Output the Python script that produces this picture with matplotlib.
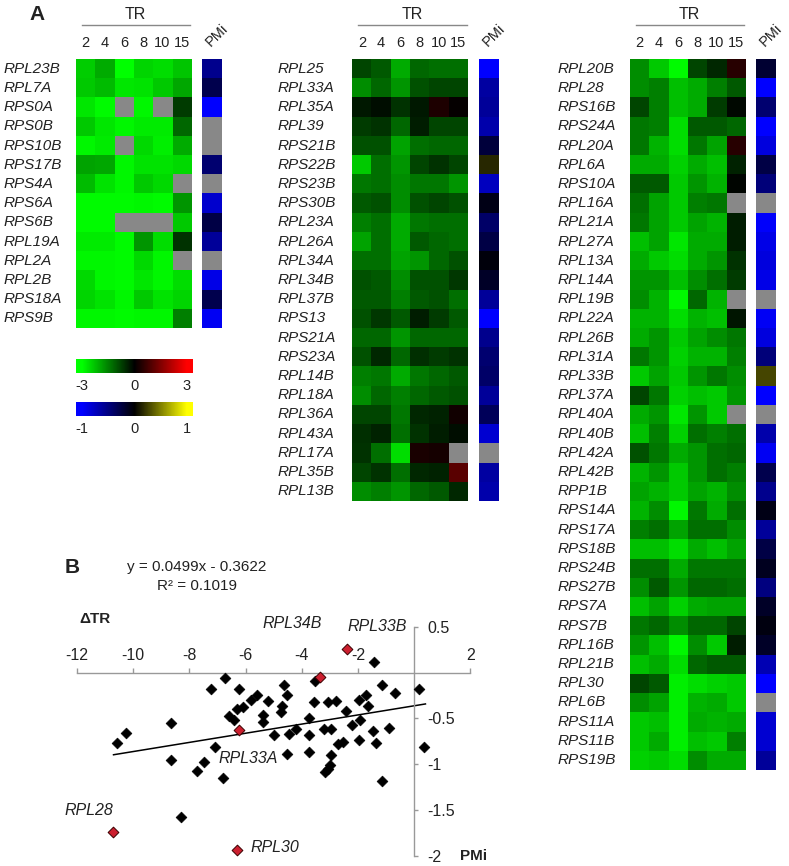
import numpy as np
import matplotlib
matplotlib.use("Agg")
import matplotlib.pyplot as plt
from matplotlib.colors import LinearSegmentedColormap
from matplotlib import transforms

plt.rcParams['font.family'] = ['Liberation Sans', 'DejaVu Sans']

nan = np.nan
tr_cols = ["2", "4", "6", "8", "10", "15"]

# ---------------- Panel A data ----------------
genes1 = ["RPL23B", "RPL7A", "RPS0A", "RPS0B", "RPS10B", "RPS17B", "RPS4A",
          "RPS6A", "RPS6B", "RPL19A", "RPL2A", "RPL2B", "RPS18A", "RPS9B"]
tr1 = [
    [-2.4, -2.0, -3.0, -2.5, -2.6, -2.3],
    [-2.35, -2.2, -2.7, -2.65, -2.35, -1.95],
    [-2.7, -2.95, nan, -2.9, nan, -0.7],
    [-2.35, -2.7, -2.9, -2.75, -2.75, -1.2],
    [-2.9, -2.75, nan, -2.55, -2.8, -2.0],
    [-1.9, -1.95, -2.9, -2.65, -2.65, -2.55],
    [-2.2, -2.65, -2.9, -2.35, -2.55, nan],
    [-2.95, -2.95, -2.95, -2.9, -2.95, -1.75],
    [-2.95, -2.95, nan, nan, nan, -2.35],
    [-2.75, -2.75, -2.95, -1.75, -2.6, -0.6],
    [-2.9, -2.9, -2.95, -2.55, -2.9, nan],
    [-2.55, -2.9, -2.95, -2.7, -2.9, -2.6],
    [-2.5, -2.65, -2.9, -2.35, -2.65, -2.5],
    [-2.9, -2.9, -2.95, -2.9, -2.9, -1.5],
]
pmi1 = [-0.55, -0.3, -1.0, nan, nan, -0.43, nan, -0.8, -0.27, -0.6, nan, -0.9, -0.3, -0.95]

genes2 = ["RPL25", "RPL33A", "RPL35A", "RPL39", "RPS21B", "RPS22B", "RPS23B",
          "RPS30B", "RPL23A", "RPL26A", "RPL34A", "RPL34B", "RPL37B", "RPS13",
          "RPS21A", "RPS23A", "RPL14B", "RPL18A", "RPL36A", "RPL43A", "RPL17A",
          "RPL35B", "RPL13B"]
tr2 = [
    [-0.8, -1.05, -2.0, -1.2, -1.3, -1.3],
    [-1.65, -1.2, -1.75, -0.95, -0.8, -0.8],
    [-0.3, -0.15, -0.6, -0.3, 0.35, 0.05],
    [-0.7, -0.6, -1.2, -0.35, -0.8, -0.8],
    [-0.95, -0.95, -1.9, -1.3, -1.2, -1.2],
    [-2.35, -1.3, -1.75, -0.8, -0.6, -0.8],
    [-1.4, -1.3, -1.65, -1.4, -1.4, -1.75],
    [-1.05, -0.95, -1.65, -0.95, -0.8, -0.95],
    [-1.5, -1.3, -2.0, -1.4, -1.3, -1.3],
    [-1.9, -1.3, -2.0, -1.05, -1.2, -1.3],
    [-1.3, -1.3, -1.9, -1.75, -1.2, -0.95],
    [-0.95, -1.05, -1.65, -0.95, -0.95, -0.65],
    [-1.05, -1.05, -1.5, -1.05, -0.95, -1.3],
    [-0.95, -0.65, -1.05, -0.35, -0.7, -1.05],
    [-1.2, -1.2, -1.75, -1.2, -1.2, -1.2],
    [-0.95, -0.45, -1.2, -0.55, -0.7, -0.6],
    [-1.5, -1.4, -2.0, -1.4, -1.2, -1.05],
    [-1.65, -1.2, -1.5, -1.2, -1.05, -0.95],
    [-0.8, -0.8, -1.4, -0.45, -0.4, 0.2],
    [-0.55, -0.4, -1.3, -0.6, -0.35, -0.15],
    [-0.6, -1.3, -2.6, 0.3, 0.25, nan],
    [-0.8, -0.6, -1.3, -0.45, -0.4, 1.05],
    [-1.65, -1.5, -1.75, -1.2, -1.05, -0.45],
]
pmi2 = [-1.0, -0.63, -0.6, -0.67, -0.23, 0.15, -0.75, -0.08, -0.4, -0.27, -0.04,
        -0.15, -0.6, -1.0, -0.55, -0.43, -0.4, -0.6, -0.35, -0.82, nan, -0.63, -0.67]

genes3 = ["RPL20B", "RPL28", "RPS16B", "RPS24A", "RPL20A", "RPL6A", "RPS10A",
          "RPL16A", "RPL21A", "RPL27A", "RPL13A", "RPL14A", "RPL19B", "RPL22A",
          "RPL26B", "RPL31A", "RPL33B", "RPL37A", "RPL40A", "RPL40B", "RPL42A",
          "RPL42B", "RPP1B", "RPS14A", "RPS17A", "RPS18B", "RPS24B", "RPS27B",
          "RPS7A", "RPS7B", "RPL16B", "RPL21B", "RPL30", "RPL6B", "RPS11A",
          "RPS11B", "RPS19B"]
tr3 = [
    [-1.65, -2.35, -2.95, -0.8, -0.45, 0.45],
    [-1.65, -1.5, -2.25, -2.0, -1.5, -1.05],
    [-0.8, -1.5, -2.25, -2.0, -0.7, -0.1],
    [-1.4, -1.5, -2.6, -1.05, -1.05, -1.2],
    [-1.4, -2.1, -2.6, -1.4, -1.9, 0.45],
    [-2.0, -2.0, -2.45, -2.0, -2.25, -0.4],
    [-1.05, -1.05, -2.35, -1.75, -2.1, -0.05],
    [-1.3, -1.9, -2.35, -1.5, -1.4, nan],
    [-1.4, -1.9, -2.35, -1.9, -2.1, -0.35],
    [-2.25, -1.9, -2.7, -2.0, -2.0, -0.35],
    [-2.0, -2.35, -2.6, -2.0, -1.75, -0.6],
    [-1.75, -1.75, -2.25, -1.65, -1.3, -0.7],
    [-1.65, -2.1, -2.9, -1.2, -2.1, nan],
    [-2.1, -2.1, -2.6, -2.1, -2.25, -0.25],
    [-2.0, -1.75, -2.35, -1.9, -1.65, -1.4],
    [-1.4, -1.75, -2.45, -2.1, -2.1, -1.5],
    [-2.35, -1.9, -2.35, -1.75, -1.4, -1.65],
    [-0.8, -1.4, -2.45, -2.25, -2.35, -1.75],
    [-2.0, -1.75, -2.7, -1.75, -2.35, nan],
    [-2.25, -1.5, -2.45, -1.3, -1.5, -1.3],
    [-0.95, -1.4, -2.0, -1.75, -1.3, -1.2],
    [-2.1, -1.75, -2.35, -1.75, -1.3, -1.5],
    [-1.9, -2.1, -2.35, -1.9, -2.1, -1.65],
    [-2.1, -1.65, -2.9, -1.4, -2.0, -1.3],
    [-1.5, -1.3, -1.9, -1.3, -1.3, -1.65],
    [-2.25, -2.25, -2.6, -2.0, -2.25, -1.9],
    [-1.3, -1.3, -2.0, -1.4, -1.4, -1.4],
    [-1.65, -1.05, -1.75, -1.2, -1.2, -1.3],
    [-2.25, -1.9, -2.45, -2.0, -1.9, -1.9],
    [-1.4, -1.2, -1.65, -1.2, -1.2, -0.8],
    [-1.75, -2.25, -2.9, -1.65, -2.35, -0.35],
    [-2.25, -2.0, -2.6, -1.2, -1.05, -1.05],
    [-0.8, -1.05, -2.8, -2.6, -2.45, -2.35],
    [-1.65, -1.9, -2.8, -2.1, -2.0, -2.35],
    [-2.35, -2.25, -2.8, -2.0, -2.1, -2.0],
    [-2.35, -2.0, -2.8, -2.25, -2.35, -1.5],
    [-2.45, -2.35, -2.6, -1.65, -2.0, -2.0],
]
pmi3 = [-0.2, -1.0, -0.43, -1.0, -0.86, -0.27, -0.47, nan, -0.98, -0.9, -0.86, -0.9,
        nan, -0.96, -0.86, -0.47, 0.27, -1.0, nan, -0.67, -0.95, -0.3, -0.55, -0.08,
        -0.6, -0.27, -0.12, -0.5, -0.15, -0.06, -0.15, -0.7, -1.0, nan, -0.82, -0.82, -0.6]

# ---------------- Panel B data ----------------
scatter_x = [-1.42, -6.75, -3.54, -7.23, -6.24, -4.63, -1.15, 0.17, -5.58, -4.53,
             -0.68, -5.82, -5.22, -3.55, -3.05, -2.78, -1.72, -1.98, -1.63, -6.08,
             -6.31, -4.70, -4.75, -2.42, -5.37, -6.60, -6.43, -5.37, -8.65, -3.73,
             -1.92, -2.22, -4.20, -0.89, -1.45, -3.20, -2.97, -10.27, -4.99, -4.46,
             -3.73, -10.59, -1.97, -2.52, -2.72, -1.37, -7.09, 0.36, -2.96, -4.53,
             -3.74, -8.66, -7.47, -2.99, -3.05, -3.17, -7.74, -6.79, -1.14, -8.31]
scatter_y = [0.118, -0.056, -0.089, -0.18, -0.18, -0.14, -0.14, -0.18, -0.24, -0.24,
             -0.22, -0.30, -0.31, -0.32, -0.32, -0.31, -0.245, -0.30, -0.365, -0.375,
             -0.40, -0.365, -0.43, -0.415, -0.46, -0.47, -0.52, -0.535, -0.55, -0.49,
             -0.52, -0.57, -0.61, -0.60, -0.64, -0.61, -0.615, -0.655, -0.68, -0.67,
             -0.68, -0.77, -0.74, -0.76, -0.78, -0.77, -0.815, -0.815, -0.90, -0.89,
             -0.87, -0.955, -0.97, -1.005, -1.05, -1.08, -1.075, -1.155, -1.18, -1.575]
hl_names = ["RPL33B", "RPL34B", "RPL33A", "RPL28", "RPL30"]
hl_x = [-2.40, -3.37, -6.23, -10.71, -6.31]
hl_y = [0.253, -0.046, -0.626, -1.735, -1.93]
fit_slope = 0.0499
fit_intercept = -0.3622
fit_x_range = [-10.7, 0.4]
x_ticks = [-12, -10, -8, -6, -4, -2, 2]
y_ticks = [0.5, -0.5, -1, -1.5, -2]

# ---------------- Figure ----------------
W, H = 789, 866
fig = plt.figure(figsize=(W / 100, H / 100), dpi=100)

cmap_tr = LinearSegmentedColormap.from_list("gbr", ["#00ff00", "#000000", "#ff0000"]).with_extremes(bad="#888888")
cmap_pm = LinearSegmentedColormap.from_list("bky", ["#0000ff", "#000000", "#ffff00"]).with_extremes(bad="#888888")

TOP = 59.3
CELL = 19.2
TXT = "#222222"


def px_axes(x0, y0, w, h):
    return fig.add_axes([x0 / W, 1 - (y0 + h) / H, w / W, h / H])


def clean(ax):
    for s in ax.spines.values():
        s.set_visible(False)
    ax.set_yticks([])


def heat_panel(left, genes, tr, pmi, pmi_left, label_x):
    n = len(genes)
    h = n * CELL
    ax = px_axes(left, TOP, 6 * CELL, h)
    ax.imshow(np.ma.masked_invalid(np.array(tr, dtype=float)), cmap=cmap_tr, vmin=-3, vmax=3,
              aspect="auto", interpolation="nearest")
    clean(ax)
    ax.set_xticks(range(6))
    ax.set_xticklabels(tr_cols)
    ax.xaxis.tick_top()
    ax.tick_params(axis="x", length=0, pad=6.5, labelsize=10.5, labelcolor=TXT)
    # TR header
    ax.plot([-0.2, 5.45], [-2.29, -2.29], color="#888888", lw=1.0, clip_on=False)
    ax.text(2.6, -2.85, "TR", ha="center", va="center", fontsize=11.5, color=TXT)
    ax.set_xlim(-0.5, 5.5)
    ax.set_ylim(n - 0.5, -0.5)
    # row labels
    tr_lab = transforms.blended_transform_factory(fig.transFigure, ax.transData)
    for i, g in enumerate(genes):
        ax.text(label_x / W, i, g, transform=tr_lab, ha="left", va="center",
                fontsize=11, style="italic", color=TXT)
    # PMi column
    axp = px_axes(pmi_left, TOP, 19.3, h)
    axp.imshow(np.ma.masked_invalid(np.array(pmi, dtype=float)).reshape(-1, 1), cmap=cmap_pm,
               vmin=-1, vmax=1, aspect="auto", interpolation="nearest")
    clean(axp)
    axp.set_xticks([])
    axp.text(-0.05, -1.15, "PMi", rotation=45, rotation_mode="anchor", ha="left",
             va="baseline", fontsize=10.5, color=TXT)
    axp.set_xlim(-0.5, 0.5)
    axp.set_ylim(n - 0.5, -0.5)
    return ax


heat_panel(76, genes1, tr1, pmi1, 202, 3.3)
heat_panel(352.3, genes2, tr2, pmi2, 479.3, 278)
heat_panel(630, genes3, tr3, pmi3, 755.7, 558)

fig.text(37 / W, 1 - 15 / H, "A", ha="center", va="center", fontsize=15, fontweight="bold", color=TXT)

# colour bars
grad = np.linspace(-1, 1, 256).reshape(1, -1)
for (y0, cmap, ticks) in [(359, cmap_tr, [-3, 0, 3]), (401.7, cmap_pm, [-1, 0, 1])]:
    axc = px_axes(75.7, y0, 117, 14.3)
    lim = ticks[-1] * 1.115
    axc.imshow(grad * lim, cmap=cmap, vmin=ticks[0], vmax=ticks[-1], aspect="auto",
               extent=[-lim, lim, 0, 1], interpolation="bilinear")
    clean(axc)
    axc.set_xlim(-lim, lim)
    axc.set_xticks(ticks)
    axc.set_xticklabels([str(t) for t in ticks])
    axc.tick_params(axis="x", length=0, pad=4, labelsize=10.5, labelcolor=TXT)

# ---------------- Panel B scatter ----------------
ax = fig.add_axes([77 / W, 1 - 856 / H, (470.4 - 77) / W, (856 - 626.7) / H])
ax.set_xlim(-12, 2)
ax.set_ylim(-2, 0.5)
ax.patch.set_alpha(0)
ax.spines["left"].set_visible(False)
ax.spines["bottom"].set_visible(False)
ax.spines["top"].set_position(("data", 0))
ax.spines["right"].set_position(("data", 0))
ax.spines["top"].set_bounds(-12, 2)
ax.spines["right"].set_bounds(-2, 0.5)
for s in ("top", "right"):
    ax.spines[s].set_color("#999999")
    ax.spines[s].set_linewidth(1.0)
ax.xaxis.set_ticks_position("top")
ax.yaxis.set_ticks_position("right")
ax.set_xticks(x_ticks)
ax.set_xticklabels([str(t) for t in x_ticks])
ax.set_yticks(y_ticks)
ax.set_yticklabels([("%g" % t) for t in y_ticks])
ax.tick_params(axis="x", direction="out", length=3.6, width=1, color="#999999", pad=3,
               labelsize=11.5, labelcolor=TXT)
ax.tick_params(axis="y", direction="out", length=3, width=1, color="#999999", pad=6.5,
               labelsize=11.5, labelcolor=TXT)

fx = np.array(fit_x_range)
ax.plot(fx, fit_slope * fx + fit_intercept, color="black", lw=1.1, clip_on=False, zorder=2)
ax.scatter(scatter_x, scatter_y, marker="D", s=30, color="black", edgecolors="black",
           linewidths=0.5, clip_on=False, zorder=3)
ax.scatter(hl_x, hl_y, marker="D", s=30, color="#CC1F2F", edgecolors="#3a0000",
           linewidths=0.7, clip_on=False, zorder=4)

ann_pos = {"RPL33B": (-1.33, 0.5, "center"), "RPL34B": (-4.35, 0.54, "center"),
           "RPL33A": (-5.9, -0.94, "center"), "RPL28": (-11.59, -1.5, "center"),
           "RPL30": (-5.81, -1.905, "left")}
for name in hl_names:
    x, y, ha = ann_pos[name]
    ax.text(x, y, name, ha=ha, va="center", fontsize=11.5, style="italic", color=TXT)

ax.text(-7.73, 1.15, "y = %.4fx - %.4f" % (fit_slope, -fit_intercept), ha="center",
        va="center", fontsize=11, color=TXT, clip_on=False)
ax.text(-7.73, 0.94, "R\u00b2 = 0.1019", ha="center", va="center", fontsize=11, color=TXT,
        clip_on=False)
ax.text(-12.16, 1.15, "B", ha="center", va="center", fontsize=15, fontweight="bold", color=TXT)
ax.text(-11.35, 0.58, "\u0394TR", ha="center", va="center", fontsize=11, fontweight="bold", color=TXT)
ax.text(1.62, -2.0, "PMi", ha="left", va="center", fontsize=11, fontweight="bold", color=TXT)

fig.savefig("out.png", dpi=100)
